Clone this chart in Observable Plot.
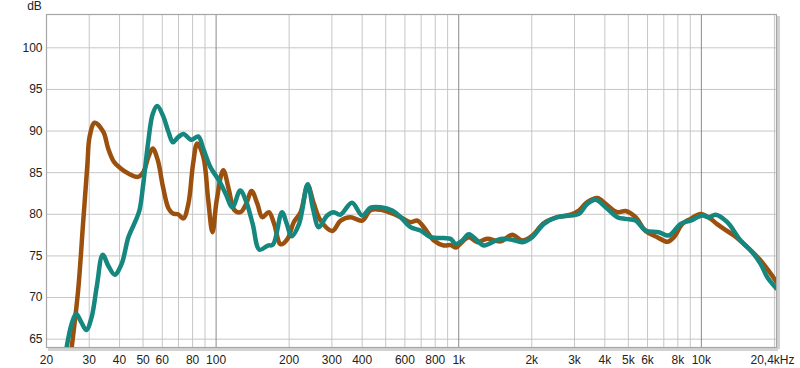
<!DOCTYPE html>
<html>
<head>
<meta charset="utf-8">
<script src="https://cdn.jsdelivr.net/npm/d3@7"></script>
<script src="https://cdn.jsdelivr.net/npm/@observablehq/plot@0.6"></script>
<style>
  html, body { margin: 0; padding: 0; background: #fff; }
  #chart svg { display: block; }
</style>
</head>
<body>
<div id="chart"></div>
<script>
// ---- data ----
const brownFreq = [24.8, 25.4, 27.0, 28.3, 29.5, 30.1, 31.6, 34.3, 35.9, 37.9, 40.1, 43.5, 47.6, 50.1, 52.6, 54.8, 57.5, 60.4, 63.7, 66.4, 69.7, 73.3, 76.9, 80.4, 83.6, 88.6, 92.8, 96.6, 100.6, 107, 113, 119, 126, 133, 140, 148, 155, 165, 173.5, 184.5, 197, 209, 223, 238.5, 253, 269.5, 301, 326, 358, 400, 433, 476, 532, 576, 633, 675, 718, 790, 868, 926, 975, 1017, 1101, 1193, 1311, 1487, 1662, 1828, 2010, 2244, 2548, 2890, 3128, 3386, 3724, 4030, 4503, 4872, 5358, 5890, 6582, 7236, 7704, 8346, 9026, 9926, 10916, 11580, 12380, 13620, 15470, 17540, 20400];
const brownDb   = [61.5, 64.0, 70.85, 78.9, 86.1, 89.3, 91.0, 89.9, 87.9, 86.3, 85.6, 84.9, 84.5, 85.05, 86.9, 87.9, 86.5, 83.3, 80.7, 80.1, 80.0, 79.5, 81.3, 86.1, 88.5, 86.9, 81.7, 77.85, 81.7, 85.3, 82.9, 80.5, 80.25, 81.25, 82.8, 81.25, 79.65, 80.25, 78.85, 76.4, 77.05, 79.05, 80.25, 83.45, 81.25, 79.25, 78.0, 79.25, 79.65, 79.25, 80.5, 80.55, 80.1, 79.65, 79.05, 79.25, 78.45, 76.85, 76.25, 76.3, 76.0, 76.5, 77.25, 76.65, 77.05, 76.75, 77.55, 76.85, 77.45, 78.95, 79.65, 79.95, 80.45, 81.45, 81.95, 81.25, 80.25, 80.4, 79.65, 78.0, 77.25, 76.7, 77.25, 78.85, 79.45, 80.05, 79.45, 78.85, 78.25, 77.45, 76.05, 74.45, 71.9];

const tealFreq = [23.8, 24.2, 25.4, 26.5, 27.8, 29.2, 30.7, 32.2, 34.1, 35.9, 38.2, 40.8, 43.5, 46.3, 48.3, 50.1, 52.6, 54.8, 57.2, 60.4, 63.7, 66.4, 69.7, 73.3, 79, 84.4, 88.6, 94.8, 102.6, 109.6, 116.7, 125.7, 132.6, 141.5, 150.9, 163.5, 171.5, 186.8, 195.6, 204.6, 219.8, 238.4, 251, 265, 287, 305, 325, 363, 400, 433, 476, 532, 576, 633, 696, 766, 868, 926, 971, 1034, 1101, 1211, 1269, 1487, 1662, 1828, 2010, 2244, 2548, 2890, 3128, 3386, 3664, 4030, 4503, 4872, 5358, 5890, 6684, 7348, 8212, 9026, 10090, 10740, 11450, 12790, 14510, 16210, 17540, 18700, 20400];
const tealDb   = [62.5, 64.0, 66.85, 68.05, 67.05, 66.1, 67.65, 71.25, 75.15, 73.85, 72.75, 74.05, 77.25, 79.05, 80.45, 83.65, 88.85, 92.05, 93.0, 91.85, 89.85, 88.65, 89.25, 89.65, 88.95, 89.35, 87.85, 85.65, 84.1, 82.45, 80.85, 82.85, 81.65, 78.85, 75.75, 76.25, 76.35, 80.25, 78.85, 77.35, 78.85, 83.6, 80.65, 78.45, 79.85, 80.25, 79.95, 81.4, 79.85, 80.8, 80.85, 80.45, 79.65, 78.45, 78.05, 77.25, 77.15, 77.05, 76.45, 76.85, 77.6, 76.65, 76.25, 77.05, 76.95, 76.65, 77.25, 78.85, 79.65, 79.85, 80.05, 81.25, 81.75, 80.85, 79.65, 79.45, 79.25, 78.05, 77.85, 77.45, 78.85, 79.25, 79.85, 79.65, 79.95, 79.05, 76.85, 75.45, 74.05, 72.45, 71.1];

const xTickValues = [20, 30, 40, 50, 60, 80, 100, 200, 300, 400, 600, 800, 1000, 2000, 3000, 4000, 5000, 6000, 8000, 10000];
const xTickLabels = ["20", "30", "40", "50", "60", "80", "100", "200", "300", "400", "600", "800", "1k", "2k", "3k", "4k", "5k", "6k", "8k", "10k"];
const xEndValue = 20400;
const xEndLabel = "20,4kHz";
const minorGrid = [20, 30, 40, 50, 60, 70, 80, 90, 200, 300, 400, 500, 600, 700, 800, 900, 2000, 3000, 4000, 5000, 6000, 7000, 8000, 9000, 20000];
const decadeGrid = [100, 1000, 10000];
const yTicks = [65, 70, 75, 80, 85, 90, 95, 100];
const yUnit = "dB";

// ---- build ----
const brownRows = brownFreq.map((f, i) => ({f, db: brownDb[i]}));
const tealRows = tealFreq.map((f, i) => ({f, db: tealDb[i]}));
const xLabelRows = xTickValues.map((v, i) => ({v, label: xTickLabels[i]}));
const yMin = 64, yMax = 104;

const brownColor = "#9c500e";
const tealColor = "#15877f";

const chart = Plot.plot({
  width: 800,
  height: 368,
  marginLeft: 46,
  marginRight: 24,
  marginTop: 14,
  marginBottom: 21,
  x: {type: "log", domain: [20, xEndValue], axis: null},
  y: {domain: [yMin, yMax]},
  style: {fontFamily: "'Liberation Sans', Arial, sans-serif", fontSize: "12px", color: "#222", background: "#fff"},
  marks: [
    Plot.ruleX(minorGrid, {stroke: "#c6c6c6", strokeWidth: 1}),
    Plot.ruleY(yTicks, {stroke: "#c6c6c6", strokeWidth: 1}),
    Plot.ruleX(decadeGrid, {stroke: "#8a8a8a", strokeWidth: 1}),
    Plot.ruleX([xEndValue], {stroke: "#d2d2d2", strokeWidth: 3, dx: 2, dy: 2}),
    Plot.ruleY([yMin], {stroke: "#d2d2d2", strokeWidth: 3, dy: 2, dx: 2}),
    Plot.frame({stroke: "#a6a6a6", strokeWidth: 1.2}),
    Plot.line(brownRows, {x: "f", y: "db", stroke: brownColor, strokeWidth: 4.5, curve: "catmull-rom", clip: true}),
    Plot.line(tealRows, {x: "f", y: "db", stroke: tealColor, strokeWidth: 4.5, curve: "catmull-rom", clip: true}),
    Plot.text(xLabelRows, {x: "v", y: yMin, text: "label", dy: 13, lineAnchor: "middle", textAnchor: "middle", fill: "#222", fontSize: 12}),
    Plot.text([xEndLabel], {x: xEndValue, y: yMin, text: d => d, dy: 13, dx: -4, lineAnchor: "middle", textAnchor: "middle", fill: "#222", fontSize: 12}),
    Plot.axisY(yTicks, {tickSize: 0, tickPadding: 4, fill: "#222", label: null}),
    Plot.text([yUnit], {x: 20, y: yMax, text: d => d, dx: -12, dy: -8, textAnchor: "middle", fill: "#222", fontSize: 12})
  ]
});

document.getElementById("chart").appendChild(chart);
</script>
</body>
</html>
